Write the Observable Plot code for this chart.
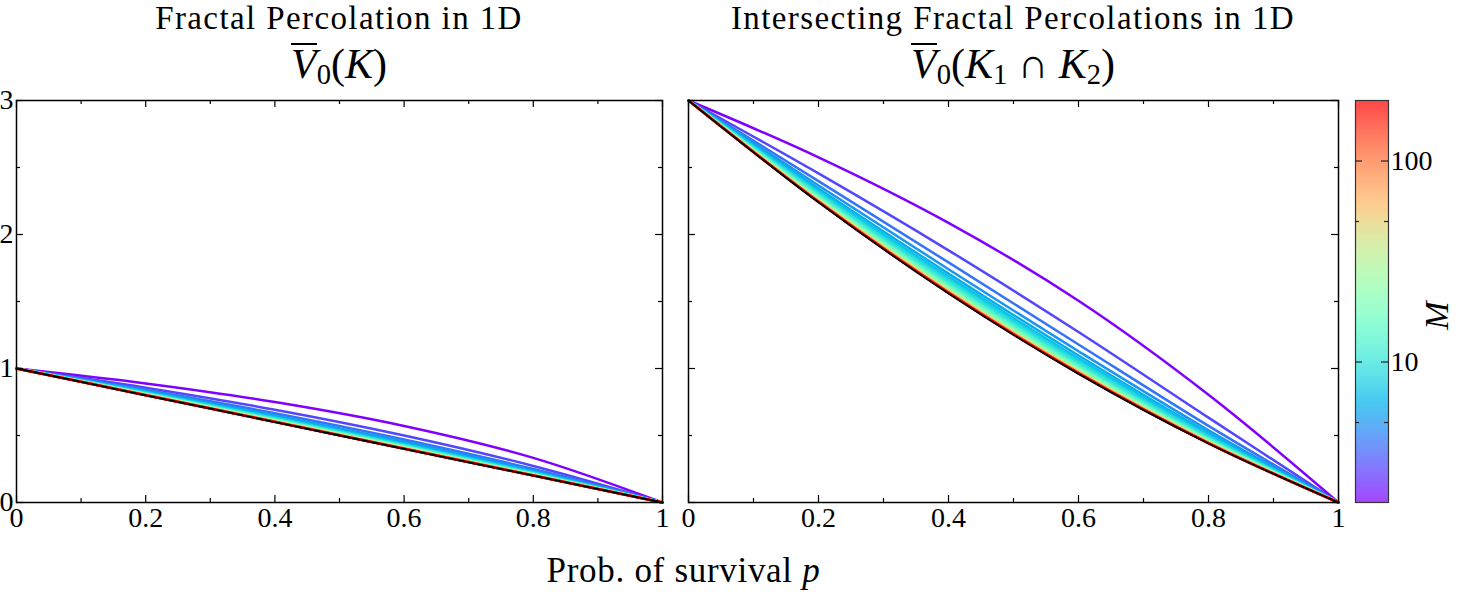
<!DOCTYPE html>
<html>
<head>
<meta charset="utf-8">
<script src="https://cdn.jsdelivr.net/npm/d3@7"></script>
<script src="https://cdn.jsdelivr.net/npm/@observablehq/plot@0.6"></script>
<style>
  body { margin: 0; background: #fff; }
  #fig { position: relative; width: 1457px; height: 594px; background: #fff; font-family: "Liberation Serif", "DejaVu Serif", serif; color: #000; overflow: hidden; }
  #fig svg { position: absolute; top: 0; }
  .ttl { position: absolute; text-align: center; white-space: nowrap; }
  .t1 { top: 0px; font-size: 33px; line-height: 37px; letter-spacing: 1.4px; }
  .t2 { top: 40px; font-size: 42px; line-height: 48px; }
  .ov { display: inline-block; border-top: 2px solid #000; line-height: 0.93em; }
  .sb { font-size: 0.68em; position: relative; top: 0.22em; }
  #xlab { position: absolute; left: 383.5px; width: 600px; top: 551px; font-size: 35px; line-height: 40px; letter-spacing: 0.7px; text-align: center; }
</style>
</head>
<body>
<div id="fig">
  <div class="ttl t1" style="left:16px;width:646px">Fractal Percolation in 1D</div>
  <div class="ttl t2" style="left:16px;width:646px"><i class="ov">V</i><span class="sb">0</span>(<i>K</i>)</div>
  <div class="ttl t1" style="left:688px;width:650px">Intersecting Fractal Percolations in 1D</div>
  <div class="ttl t2" style="left:688px;width:650px"><i class="ov">V</i><span class="sb">0</span>(<i>K</i><span class="sb">1</span> ∩ <i>K</i><span class="sb">2</span>)</div>
  <div id="xlab">Prob. of survival <i>p</i></div>
</div>
<script>
// Survival probabilities at which each curve is tabulated
const pValues = [0, 0.2, 0.4, 0.6, 0.8, 1];

// Subdivision numbers M, one curve each
const mValues = [2, 3, 4, 5, 6, 7, 8, 9, 10, 12, 14, 17, 20, 25, 30, 40, 50, 65, 85, 110, 150, 200];

// Mean rescaled Euler characteristic of K, one row per M
const v0Single = [
  [1, 0.8889, 0.7500, 0.5714, 0.3333, 0],
  [1, 0.8571, 0.6923, 0.5000, 0.2727, 0],
  [1, 0.8421, 0.6667, 0.4706, 0.2500, 0],
  [1, 0.8333, 0.6522, 0.4545, 0.2381, 0],
  [1, 0.8276, 0.6429, 0.4444, 0.2308, 0],
  [1, 0.8235, 0.6364, 0.4375, 0.2258, 0],
  [1, 0.8205, 0.6316, 0.4324, 0.2222, 0],
  [1, 0.8182, 0.6279, 0.4286, 0.2195, 0],
  [1, 0.8163, 0.6250, 0.4255, 0.2174, 0],
  [1, 0.8136, 0.6207, 0.4211, 0.2143, 0],
  [1, 0.8116, 0.6176, 0.4179, 0.2121, 0],
  [1, 0.8095, 0.6145, 0.4146, 0.2099, 0],
  [1, 0.8081, 0.6122, 0.4124, 0.2083, 0],
  [1, 0.8065, 0.6098, 0.4098, 0.2066, 0],
  [1, 0.8054, 0.6081, 0.4082, 0.2055, 0],
  [1, 0.8040, 0.6061, 0.4061, 0.2041, 0],
  [1, 0.8032, 0.6048, 0.4049, 0.2033, 0],
  [1, 0.8025, 0.6037, 0.4037, 0.2025, 0],
  [1, 0.8019, 0.6028, 0.4028, 0.2019, 0],
  [1, 0.8015, 0.6022, 0.4022, 0.2015, 0],
  [1, 0.8011, 0.6016, 0.4016, 0.2011, 0],
  [1, 0.8008, 0.6012, 0.4012, 0.2008, 0]
];

// Mean rescaled Euler characteristic of K1 ∩ K2, one row per M
const v0Intersect = [
  [3, 2.5760, 2.0870, 1.5052, 0.8039, 0],
  [3, 2.4556, 1.8819, 1.2727, 0.6333, 0],
  [3, 2.3987, 1.7917, 1.1791, 0.5714, 0],
  [3, 2.3656, 1.7409, 1.1285, 0.5395, 0],
  [3, 2.3439, 1.7084, 1.0969, 0.5201, 0],
  [3, 2.3286, 1.6858, 1.0753, 0.5070, 0],
  [3, 2.3172, 1.6692, 1.0596, 0.4976, 0],
  [3, 2.3084, 1.6564, 1.0476, 0.4905, 0],
  [3, 2.3015, 1.6463, 1.0382, 0.4850, 0],
  [3, 2.2910, 1.6314, 1.0244, 0.4769, 0],
  [3, 2.2836, 1.6209, 1.0148, 0.4712, 0],
  [3, 2.2758, 1.6099, 1.0047, 0.4654, 0],
  [3, 2.2704, 1.6022, 0.9978, 0.4614, 0],
  [3, 2.2643, 1.5936, 0.9900, 0.4570, 0],
  [3, 2.2602, 1.5879, 0.9849, 0.4541, 0],
  [3, 2.2551, 1.5809, 0.9786, 0.4505, 0],
  [3, 2.2521, 1.5767, 0.9748, 0.4483, 0],
  [3, 2.2493, 1.5728, 0.9713, 0.4464, 0],
  [3, 2.2471, 1.5698, 0.9687, 0.4449, 0],
  [3, 2.2455, 1.5675, 0.9667, 0.4438, 0],
  [3, 2.2440, 1.5655, 0.9649, 0.4427, 0],
  [3, 2.2430, 1.5641, 0.9637, 0.4421, 0]
];

// Limits as M grows without bound
const v0SingleLimit = [1, 0.8, 0.6, 0.4, 0.2, 0];
const v0IntersectLimit = [3, 2.24, 1.56, 0.96, 0.44, 0];

// Tick values
const xMajorTicks = [0, 0.2, 0.4, 0.6, 0.8, 1];
const xMinorTicks = [0.1, 0.3, 0.5, 0.7, 0.9];
const yMajorTicks = [0, 1, 2, 3];
const yMinorTicks = [0.5, 1.5, 2.5];
const mDomain = [2, 200];
const mLabelTicks = [10, 100];
const mMinorTicks = [5, 50];

// matplotlib-style "rainbow" colormap
function rainbow(t) {
  const c = v => Math.max(0, Math.min(1, v)) * 255;
  return d3.rgb(c(Math.abs(2 * t - 0.5)), c(Math.sin(Math.PI * t)), c(Math.cos(Math.PI * t / 2))).formatHex();
}
const colorScale = {type: "log", domain: mDomain, interpolate: rainbow};

const H = 594, MT = 100, MB = 92;
const FH = H - MT - MB;
const MAJ = 7, MIN = 4;
const svgStyle = {fontFamily: "'Liberation Serif', 'DejaVu Serif', serif", fontSize: "28px", background: "transparent", overflow: "visible", color: "black"};

function tidy(rows) {
  return mValues.flatMap((M, i) => pValues.map((p, j) => ({M, p, v: rows[i][j]})));
}
function tidyLimit(vals) {
  return pValues.map((p, j) => ({p, v: vals[j]}));
}

function panel({rows, limit, width, marginLeft, marginRight, yLabels}) {
  const FW = width - marginLeft - marginRight;
  const tick = {stroke: "black", strokeWidth: 1.2};
  return Plot.plot({
    width, height: H, marginTop: MT, marginBottom: MB, marginLeft, marginRight,
    style: svgStyle,
    x: {domain: [0, 1], label: null},
    y: {domain: [0, 3], label: null, axis: yLabels ? undefined : null},
    color: colorScale,
    marks: [
      Plot.line(tidy(rows), {x: "p", y: "v", z: "M", stroke: "M", strokeWidth: 2.5, curve: "catmull-rom"}),
      Plot.line(tidyLimit(limit), {x: "p", y: "v", stroke: "black", strokeWidth: 1.8, curve: "catmull-rom"}),
      Plot.frame({stroke: "black", strokeWidth: 1.5}),
      // inward ticks on all four sides
      Plot.tickX(xMajorTicks, {x: d => d, insetTop: FH - MAJ, ...tick}),
      Plot.tickX(xMajorTicks, {x: d => d, insetBottom: FH - MAJ, ...tick}),
      Plot.tickX(xMinorTicks, {x: d => d, insetTop: FH - MIN, ...tick}),
      Plot.tickX(xMinorTicks, {x: d => d, insetBottom: FH - MIN, ...tick}),
      Plot.tickY(yMajorTicks, {y: d => d, insetRight: FW - MAJ, ...tick}),
      Plot.tickY(yMajorTicks, {y: d => d, insetLeft: FW - MAJ, ...tick}),
      Plot.tickY(yMinorTicks, {y: d => d, insetRight: FW - MIN, ...tick}),
      Plot.tickY(yMinorTicks, {y: d => d, insetLeft: FW - MIN, ...tick}),
      Plot.axisX({ticks: xMajorTicks, tickSize: 0, tickPadding: 5, tickFormat: d3.format("~g"), label: null}),
      yLabels ? Plot.axisY({ticks: yMajorTicks, tickSize: 0, tickPadding: 3, tickFormat: d3.format("~g"), label: null}) : null
    ]
  });
}

function colorbar() {
  const width = 112, marginLeft = 10, marginRight = 69;
  const FW = width - marginLeft - marginRight;
  const n = 300;
  const [m0, m1] = mDomain;
  const at = t => m0 * (m1 / m0) ** t;
  const steps = d3.range(n).map(i => ({lo: at(i / n), hi: at((i + 1) / n), mid: at((i + 0.5) / n)}));
  const tick = {stroke: "#222", strokeWidth: 1.2};
  return Plot.plot({
    width, height: H, marginTop: MT, marginBottom: MB, marginLeft, marginRight,
    style: svgStyle,
    x: {domain: [0, 1], axis: null},
    y: {type: "log", domain: mDomain, label: null},
    color: colorScale,
    marks: [
      Plot.rect(steps, {x1: d => 0, x2: d => 1, y1: "lo", y2: "hi", fill: "mid", fillOpacity: 0.72, shapeRendering: "crispEdges"}),
      Plot.frame({stroke: "#333", strokeWidth: 1.2}),
      Plot.tickY(mLabelTicks, {y: d => d, insetRight: FW - MAJ, ...tick}),
      Plot.tickY(mLabelTicks, {y: d => d, insetLeft: FW - MAJ, ...tick}),
      Plot.tickY(mMinorTicks, {y: d => d, insetRight: FW - MIN, ...tick}),
      Plot.tickY(mMinorTicks, {y: d => d, insetLeft: FW - MIN, ...tick}),
      Plot.axisY({anchor: "right", ticks: mLabelTicks, tickSize: 0, tickPadding: 2, tickFormat: d => String(d), label: null}),
      Plot.text(["M"], {text: d => d, frameAnchor: "right", dx: 49, rotate: -90, fontSize: 34, fontStyle: "italic"})
    ]
  });
}

const fig = document.getElementById("fig");
const left = panel({rows: v0Single, limit: v0SingleLimit, width: 680, marginLeft: 16, marginRight: 18, yLabels: true});
left.style.left = "0px";
const right = panel({rows: v0Intersect, limit: v0IntersectLimit, width: 680, marginLeft: 16, marginRight: 14, yLabels: false});
right.style.left = "672px";
const cb = colorbar();
cb.style.left = "1345px";
fig.append(left, right, cb);
</script>
</body>
</html>
